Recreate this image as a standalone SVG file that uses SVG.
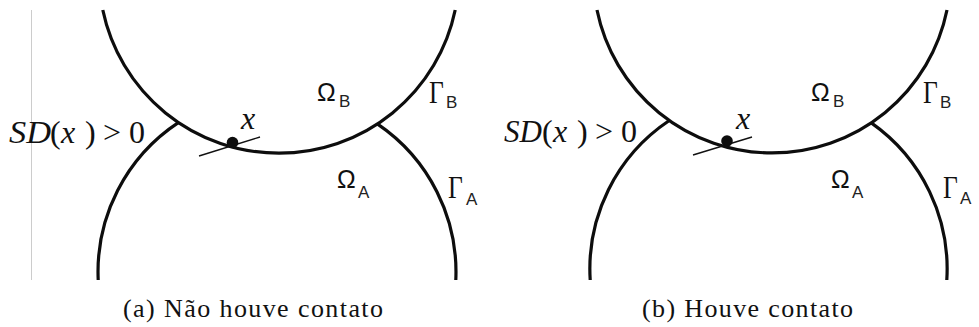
<svg xmlns="http://www.w3.org/2000/svg" width="979" height="327" viewBox="0 0 979 327">
<style>
.arc{fill:none;stroke:#0d0d0d;stroke-width:3.2;stroke-linecap:butt}
.tan{fill:none;stroke:#111;stroke-width:1.4}
.dot{fill:#0d0d0d}
</style>
<rect width="979" height="327" fill="#ffffff"/>
<line x1="31.5" y1="10" x2="31.5" y2="280" stroke="#cccccc" stroke-width="1"/>

<g id="panel-a">
  <g id="connectors-a">
    <path class="arc" d="M102.8 10 A180 180 0 0 0 455.2 10"/>
    <path class="arc" d="M178.7 122.4 A179 179 0 0 0 98.2 280"/>
    <path class="arc" d="M377.3 123.8 A179 179 0 0 1 455.8 280"/>
    <line class="tan" x1="199" y1="156" x2="260" y2="137"/>
  </g>
  <g id="point-a">
    <circle class="dot" cx="232.5" cy="142.5" r="5.8"/>
    <text font-family="Liberation Serif, serif" font-style="italic" font-size="32" fill="#111" x="241" y="129">x</text>
  </g>
  <g id="sd-a" font-family="Liberation Serif, serif" font-size="32" fill="#111">
    <text x="9" y="143" font-style="italic" textLength="42" lengthAdjust="spacingAndGlyphs">SD</text>
    <text x="50" y="143">(</text>
    <text x="61" y="143" font-style="italic">x</text>
    <text x="85" y="143">)</text>
    <text x="103" y="143">&gt;</text>
    <text x="129" y="143">0</text>
  </g>
  <g id="omega-b-a"><text font-family="Liberation Sans, sans-serif" font-size="25" fill="#111" x="317" y="101">Ω</text><text font-family="Liberation Sans, sans-serif" font-size="17" fill="#222" x="339" y="107">B</text></g>
  <g id="gamma-b-a"><text font-family="Liberation Serif, serif" font-size="32" fill="#111" transform="translate(429 103) scale(0.8 1)">Γ</text><text font-family="Liberation Sans, sans-serif" font-size="17" fill="#222" x="446" y="108">B</text></g>
  <g id="omega-a-a"><text font-family="Liberation Sans, sans-serif" font-size="25" fill="#111" x="337" y="188">Ω</text><text font-family="Liberation Sans, sans-serif" font-size="17" fill="#222" x="358" y="198">A</text></g>
  <g id="gamma-a-a"><text font-family="Liberation Serif, serif" font-size="32" fill="#111" transform="translate(448 198) scale(0.8 1)">Γ</text><text font-family="Liberation Sans, sans-serif" font-size="17" fill="#222" x="466" y="205">A</text></g>
  <text font-family="Liberation Serif, serif" font-size="26" fill="#111" x="123" y="317" textLength="260" lengthAdjust="spacing">(a) Não houve contato</text>
</g>

<g id="panel-b">
  <g id="connectors-b">
    <path class="arc" d="M597 10 A178.6 178.6 0 0 0 947 10"/>
    <path class="arc" d="M669.3 120.5 A178.6 178.6 0 0 0 590.2 280"/>
    <path class="arc" d="M871.3 122.9 A178.6 178.6 0 0 1 946.8 280"/>
    <line class="tan" x1="693" y1="155" x2="752" y2="137"/>
  </g>
  <g id="point-b">
    <circle class="dot" cx="727" cy="141" r="5.8"/>
    <text font-family="Liberation Serif, serif" font-style="italic" font-size="32" fill="#111" x="736" y="129">x</text>
  </g>
  <g id="sd-b" font-family="Liberation Serif, serif" font-size="32" fill="#111">
    <text x="504" y="142" font-style="italic" textLength="38" lengthAdjust="spacingAndGlyphs">SD</text>
    <text x="542" y="142">(</text>
    <text x="553" y="142" font-style="italic">x</text>
    <text x="577" y="142">)</text>
    <text x="595" y="142">&gt;</text>
    <text x="621" y="142">0</text>
  </g>
  <g id="omega-b-b"><text font-family="Liberation Sans, sans-serif" font-size="25" fill="#111" x="811" y="101">Ω</text><text font-family="Liberation Sans, sans-serif" font-size="17" fill="#222" x="833" y="107">B</text></g>
  <g id="gamma-b-b"><text font-family="Liberation Serif, serif" font-size="32" fill="#111" transform="translate(923 103) scale(0.8 1)">Γ</text><text font-family="Liberation Sans, sans-serif" font-size="17" fill="#222" x="940" y="108">B</text></g>
  <g id="omega-a-b"><text font-family="Liberation Sans, sans-serif" font-size="25" fill="#111" x="831" y="188">Ω</text><text font-family="Liberation Sans, sans-serif" font-size="17" fill="#222" x="852" y="198">A</text></g>
  <g id="gamma-a-b"><text font-family="Liberation Serif, serif" font-size="32" fill="#111" transform="translate(943 198) scale(0.8 1)">Γ</text><text font-family="Liberation Sans, sans-serif" font-size="17" fill="#222" x="960" y="204">A</text></g>
  <text font-family="Liberation Serif, serif" font-size="26" fill="#111" x="642" y="317" textLength="211" lengthAdjust="spacing">(b) Houve contato</text>
</g>
</svg>
